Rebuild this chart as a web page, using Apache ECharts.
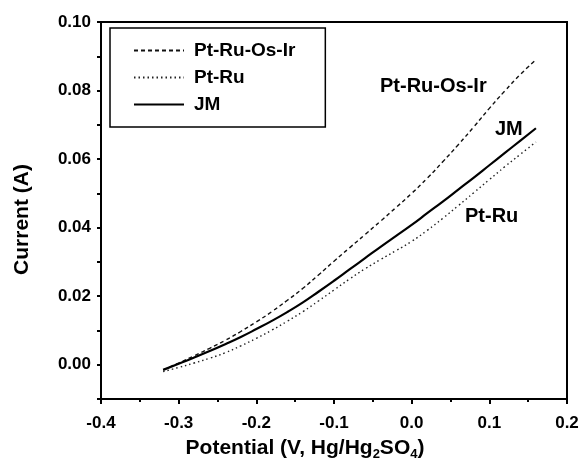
<!DOCTYPE html>
<html>
<head>
<meta charset="utf-8">
<script src="https://cdn.jsdelivr.net/npm/echarts@6/dist/echarts.min.js"></script>
<style>
  html, body { margin: 0; padding: 0; background: #fff; }
  #main { width: 582px; height: 464px; }
</style>
</head>
<body>
<div id="main"></div>
<script>
// potential (V vs Hg/Hg2SO4)
const potential = [-0.32, -0.30, -0.28, -0.26, -0.24, -0.22, -0.20, -0.18, -0.16, -0.14, -0.12, -0.10, -0.08,
  -0.06, -0.04, -0.02, 0.00, 0.02, 0.04, 0.06, 0.08, 0.10, 0.12, 0.14, 0.16];

// current (A)
const ptRuOsIr = [-0.0015, 0.0005, 0.0026, 0.0048, 0.0071, 0.0097, 0.0125, 0.0155, 0.0188, 0.0223, 0.0262, 0.0302, 0.0341,
  0.0380, 0.0419, 0.0459, 0.0500, 0.0544, 0.0592, 0.0642, 0.0694, 0.0748, 0.0799, 0.0847, 0.0890];
const ptRu = [-0.0020, -0.0008, 0.0005, 0.0019, 0.0035, 0.0055, 0.0077, 0.0101, 0.0127, 0.0155, 0.0186, 0.0218, 0.0250,
  0.0280, 0.0307, 0.0333, 0.0360, 0.0392, 0.0427, 0.0464, 0.0502, 0.0540, 0.0578, 0.0614, 0.0650];
const jm = [-0.0015, 0.0003, 0.0021, 0.0040, 0.0060, 0.0081, 0.0104, 0.0128, 0.0154, 0.0182, 0.0213, 0.0245, 0.0278,
  0.0311, 0.0344, 0.0376, 0.0408, 0.0442, 0.0476, 0.0511, 0.0546, 0.0582, 0.0618, 0.0654, 0.0690];

const seriesNames = ["Pt-Ru-Os-Ir", "Pt-Ru", "JM"];
const xTicks = { min: -0.4, max: 0.2, step: 0.1 };
const yTicks = { min: -0.01, max: 0.1, step: 0.01 };

const font = "'Liberation Sans', Arial, sans-serif";

function pairs(ys) {
  return potential.map(function(x, i) { return [x, ys[i]]; });
}

function getOption() {
  return {
    backgroundColor: "#ffffff",
    animation: false,
    color: ["#111", "#222", "#000"],
    textStyle: { fontFamily: font, color: "#000" },
    grid: {
      left: 101, right: 15, top: 22, bottom: 65,
      show: true, borderColor: "#000", borderWidth: 2
    },
    legend: {
      data: seriesNames,
      orient: "vertical",
      left: 110, top: 28,
      itemWidth: 50, itemHeight: 14, itemGap: 8,
      padding: [13, 30, 13, 23],
      borderColor: "#000", borderWidth: 1.5,
      itemStyle: { opacity: 0 },
      textStyle: { fontFamily: font, fontSize: 19, fontWeight: "bold", color: "#000", padding: [0, 0, 0, 5] }
    },
    xAxis: {
      type: "value",
      min: xTicks.min, max: xTicks.max, interval: xTicks.step,
      axisLine: { onZero: false, lineStyle: { color: "#000", width: 2 } },
      axisTick: { length: 5, lineStyle: { width: 2 } },
      minorTick: { show: true, splitNumber: 2, length: 3, lineStyle: { color: "#000", width: 2 } },
      splitLine: { show: false },
      axisLabel: {
        margin: 16, fontFamily: font, fontSize: 17, fontWeight: "bold", color: "#000",
        formatter: function(v) { return v.toFixed(1); }
      }
    },
    yAxis: {
      type: "value",
      min: yTicks.min, max: yTicks.max, interval: yTicks.step,
      name: "Current (A)",
      nameLocation: "middle", nameRotate: 90, nameGap: 68,
      nameTextStyle: { fontFamily: font, fontSize: 21, fontWeight: "bold", color: "#000", padding: [0, 18, 0, 0] },
      axisLine: { onZero: false, lineStyle: { color: "#000", width: 2 } },
      axisTick: { length: 4, lineStyle: { width: 2 } },
      splitLine: { show: false },
      axisLabel: {
        margin: 10, fontFamily: font, fontSize: 17, fontWeight: "bold", color: "#000",
        formatter: function(v) {
          const k = Math.round(v * 100);
          return (k >= 0 && k % 2 === 0) ? v.toFixed(2) : "";
        }
      }
    },
    graphic: [
      {
        type: "text", x: 305, y: 436,
        style: {
          align: "center", verticalAlign: "top",
          text: "{a|Potential (V, Hg/Hg}{s|2}{a|SO}{s|4}{a|)}",
          rich: {
            a: { fontFamily: font, fontSize: 21, fontWeight: "bold", fill: "#000" },
            s: { fontFamily: font, fontSize: 13, fontWeight: "bold", fill: "#000", padding: [12, 0, 0, 0] }
          }
        }
      },
      { type: "text", x: 380, y: 76, style: { text: "Pt-Ru-Os-Ir", font: "bold 20px " + font, fill: "#000" } },
      { type: "text", x: 495, y: 119, style: { text: "JM", font: "bold 20px " + font, fill: "#000" } },
      { type: "text", x: 465, y: 206, style: { text: "Pt-Ru", font: "bold 20px " + font, fill: "#000" } }
    ],
    series: [
      {
        name: seriesNames[0], type: "line", data: pairs(ptRuOsIr),
        symbol: "none", smooth: true,
        lineStyle: { color: "#111", width: 1.4, type: [4, 3] }
      },
      {
        name: seriesNames[1], type: "line", data: pairs(ptRu),
        symbol: "none", smooth: true,
        lineStyle: { color: "#222", width: 1.4, type: [1.5, 3] }
      },
      {
        name: seriesNames[2], type: "line", data: pairs(jm),
        symbol: "none", smooth: true,
        lineStyle: { color: "#000", width: 2.2 }
      }
    ]
  };
}

const chart = echarts.init(document.getElementById("main"), null, { width: 582, height: 464 });
chart.setOption(getOption());
</script>
</body>
</html>
